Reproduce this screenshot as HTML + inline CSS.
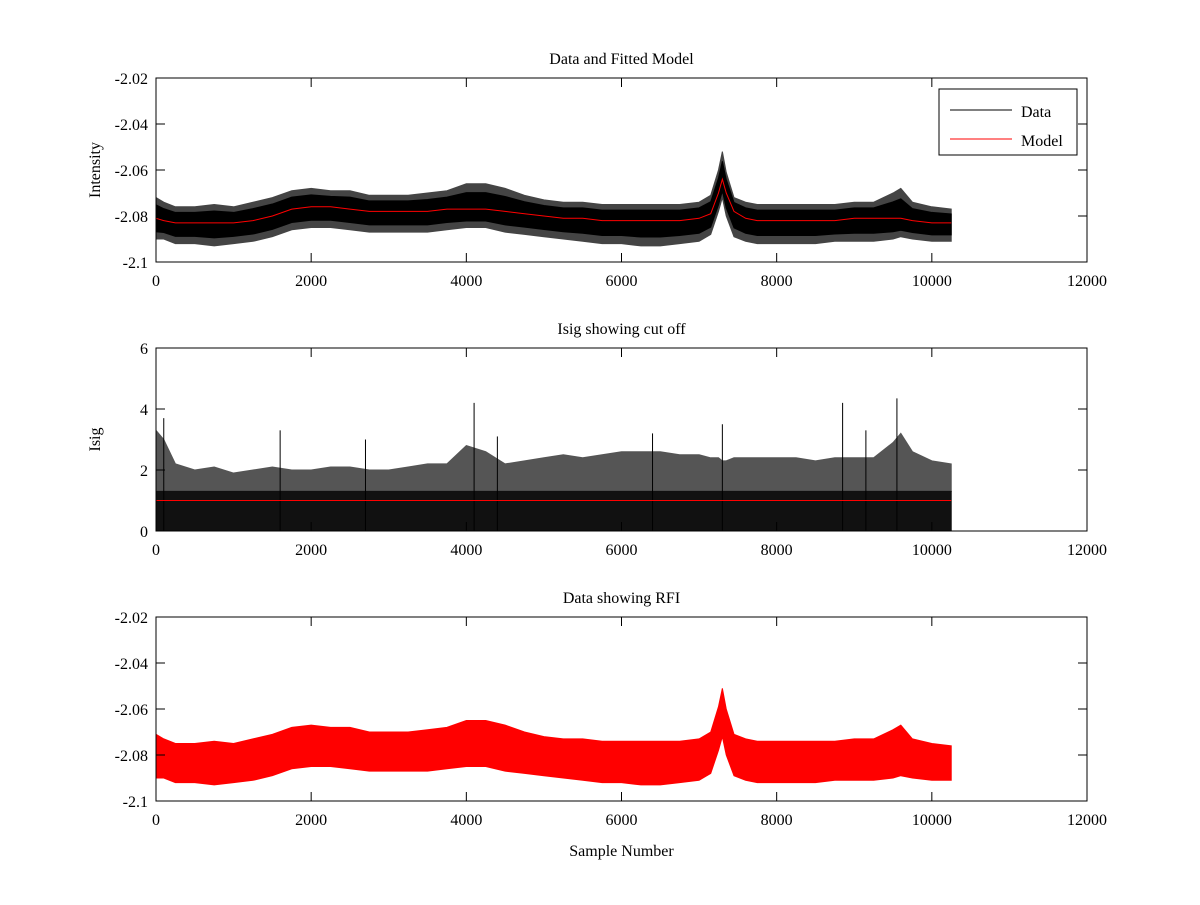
<!DOCTYPE html>
<html><head><meta charset="utf-8"><style>
body{margin:0;background:#fff}
svg text{font-family:"Liberation Serif",serif;font-size:16px;fill:#000}
</style></head><body>
<svg id="chart" width="1200" height="900" xmlns="http://www.w3.org/2000/svg"></svg>
<script>
const xs=[0,100,250,500,750,1000,1250,1500,1750,2000,2250,2500,2750,3000,3250,3500,3750,4000,4250,4500,4750,5000,5250,5500,5750,6000,6250,6500,6750,7000,7150,7250,7300,7350,7450,7600,7750,8000,8250,8500,8750,9000,9250,9500,9600,9750,10000,10250];
const model=[-2.081,-2.082,-2.083,-2.083,-2.083,-2.083,-2.082,-2.080,-2.077,-2.076,-2.076,-2.077,-2.078,-2.078,-2.078,-2.078,-2.077,-2.077,-2.077,-2.078,-2.079,-2.080,-2.081,-2.081,-2.082,-2.082,-2.082,-2.082,-2.082,-2.081,-2.079,-2.070,-2.064,-2.070,-2.078,-2.081,-2.082,-2.082,-2.082,-2.082,-2.082,-2.081,-2.081,-2.081,-2.081,-2.082,-2.083,-2.083];
const dataUpper=[-2.072,-2.074,-2.076,-2.076,-2.075,-2.076,-2.074,-2.072,-2.069,-2.068,-2.069,-2.069,-2.071,-2.071,-2.071,-2.070,-2.069,-2.066,-2.066,-2.068,-2.071,-2.073,-2.074,-2.074,-2.075,-2.075,-2.075,-2.075,-2.075,-2.074,-2.071,-2.060,-2.052,-2.061,-2.072,-2.074,-2.075,-2.075,-2.075,-2.075,-2.075,-2.074,-2.074,-2.070,-2.068,-2.074,-2.076,-2.077];
const dataLower=[-2.090,-2.090,-2.092,-2.092,-2.093,-2.092,-2.091,-2.089,-2.086,-2.085,-2.085,-2.086,-2.087,-2.087,-2.087,-2.087,-2.086,-2.085,-2.085,-2.087,-2.088,-2.089,-2.090,-2.091,-2.092,-2.092,-2.093,-2.093,-2.092,-2.091,-2.088,-2.078,-2.072,-2.080,-2.089,-2.091,-2.092,-2.092,-2.092,-2.092,-2.091,-2.091,-2.091,-2.090,-2.089,-2.090,-2.091,-2.091];
const isigUpper=[3.3,3.0,2.2,2.0,2.1,1.9,2.0,2.1,2.0,2.0,2.1,2.1,2.0,2.0,2.1,2.2,2.2,2.8,2.6,2.2,2.3,2.4,2.5,2.4,2.5,2.6,2.6,2.6,2.5,2.5,2.4,2.4,2.3,2.3,2.4,2.4,2.4,2.4,2.4,2.3,2.4,2.4,2.4,2.9,3.2,2.6,2.3,2.2];
const isigDense=1.3;
const isigCut=1.0;
const spikeX=[100,1600,2700,4100,4400,6400,7300,8850,9150,9550];
const spikeY=[3.7,3.3,3.0,4.2,3.1,3.2,3.5,4.2,3.3,4.35];
const xTicks=[0,2000,4000,6000,8000,10000,12000];
const yTicksI=[-2.1,-2.08,-2.06,-2.04,-2.02];
const yTicksS=[0,2,4,6];

const svg=document.getElementById('chart');
const NS='http://www.w3.org/2000/svg';
function el(t,a,p){const e=document.createElementNS(NS,t);for(const k in a)e.setAttribute(k,a[k]);(p||svg).appendChild(e);return e;}
const X0=156,X1=1087;
const sx=v=>X0+(v/12000)*(X1-X0);
function mkY(top,bot,min,max){return v=>bot-(v-min)/(max-min)*(bot-top);}

function axes(name,top,bot,sy,yt,title,ylab,fmt){
  const g=el('g',{});
  
  
  const r=el('rect',{x:X0,y:top,width:X1-X0,height:bot-top,fill:'none',stroke:'#000','stroke-width':1},g);
  
  xTicks.forEach(v=>{const x=sx(v);
    el('line',{x1:x,x2:x,y1:bot,y2:bot-9,stroke:'#000'},g);
    el('line',{x1:x,x2:x,y1:top,y2:top+9,stroke:'#000'},g);
    const t=el('text',{x:x,y:bot+24,'text-anchor':'middle'},g);t.textContent=v;
    });
  yt.forEach(v=>{const y=sy(v);
    el('line',{x1:X0,x2:X0+9,y1:y,y2:y,stroke:'#000'},g);
    el('line',{x1:X1,x2:X1-9,y1:y,y2:y,stroke:'#000'},g);
    const t=el('text',{x:X0-8,y:y+6,'text-anchor':'end'},g);t.textContent=fmt(v);
    });
  const tt=el('text',{x:(X0+X1)/2,y:top-14,'text-anchor':'middle'},g);tt.textContent=title;
  
  if(ylab){const yl=el('text',{x:0,y:0,'text-anchor':'middle',transform:`translate(100,${(top+bot)/2}) rotate(-90)`},g);yl.textContent=ylab;
    }
}
function band(up,lo,sy,fill,name){
  let d='M'+xs.map((x,i)=>sx(x)+','+sy(up[i])).join('L');
  for(let i=xs.length-1;i>=0;i--)d+='L'+sx(xs[i])+','+sy(lo[i]);
  const p=el('path',{d:d+'Z',fill:fill,stroke:fill,'stroke-width':1});
  
  return p;
}
function line(vals,sy,color,name){
  const p=el('polyline',{points:xs.map((x,i)=>sx(x)+','+sy(vals[i])).join(' '),fill:'none',stroke:color,'stroke-width':1});
  
}
const f2=v=>v===0?'0':(Math.round(v*100)/100).toString();

// Plot 1
const sy1=mkY(78,262,-2.1,-2.02);
band(dataUpper,dataLower,sy1,'#444','data-series-fringe');
band(dataUpper.map((v,i)=>v+(model[i]-v)*0.35),dataLower.map((v,i)=>v+(model[i]-v)*0.35),sy1,'#000','data-series');
line(model,sy1,'#f00','model-series');
axes('top-axes',78,262,sy1,yTicksI,'Data and Fitted Model','Intensity',f2);
const lg=el('g',{});

el('rect',{x:939,y:89,width:138,height:66,fill:'#fff',stroke:'#000'},lg);
el('line',{x1:950,x2:1012,y1:110,y2:110,stroke:'#000'},lg);
el('line',{x1:950,x2:1012,y1:139,y2:139,stroke:'#f00'},lg);
let t=el('text',{x:1021,y:117},lg);t.textContent='Data';

t=el('text',{x:1021,y:146},lg);t.textContent='Model';


// Plot 2
const sy2=mkY(348,531,0,6);
band(isigUpper,xs.map(()=>isigDense),sy2,'#555','isig-sparse');
band(xs.map(()=>isigDense),xs.map(()=>0),sy2,'#111','isig-dense');
spikeX.forEach((x,i)=>{const l=el('line',{x1:sx(x),x2:sx(x),y1:sy2(0),y2:sy2(spikeY[i]),stroke:'#000'});
  });
const cut=el('line',{x1:sx(0),x2:sx(xs[xs.length-1]),y1:sy2(isigCut),y2:sy2(isigCut),stroke:'#f00'});

axes('middle-axes',348,531,sy2,yTicksS,'Isig showing cut off','Isig',v=>String(v));

// Plot 3
const sy3=mkY(617,801,-2.1,-2.02);
band(dataUpper.map(v=>v+0.001),dataLower,sy3,'#f00','rfi-series');
axes('bottom-axes',617,801,sy3,yTicksI,'Data showing RFI','',f2);
t=el('text',{x:(X0+X1)/2,y:856,'text-anchor':'middle'});t.textContent='Sample Number';

</script>
</body></html>
